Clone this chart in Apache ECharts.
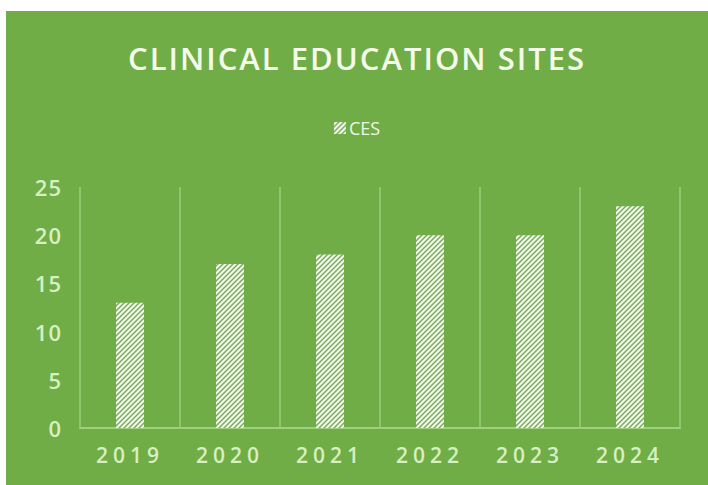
<!DOCTYPE html>
<html>
<head>
<meta charset="utf-8">
<script src="https://cdn.jsdelivr.net/npm/echarts@6/dist/echarts.min.js"></script>
<style>
    html, body { margin: 0; padding: 0; background: #ffffff; }
    #chart { position: absolute; left: 6px; top: 11px; width: 702px; height: 474px; }
</style>
</head>
<body>
<div id="chart"></div>
<script>
    var titleText = 'CLINICAL EDUCATION SITES';
    var seriesName = 'CES';
    var years = ['2019', '2020', '2021', '2022', '2023', '2024'];
    var sites = [13, 17, 18, 20, 20, 23];

    // diagonal hatch tile for the bars
    function hatch() {
        var c = document.createElement('canvas');
        c.width = 5; c.height = 5;
        var ctx = c.getContext('2d');
        ctx.fillStyle = '#f2f8ec';
        ctx.fillRect(0, 0, 5, 5);
        ctx.strokeStyle = '#78a95a';
        ctx.lineWidth = 1.4;
        ctx.beginPath();
        ctx.moveTo(-1, 6); ctx.lineTo(6, -1);
        ctx.moveTo(-1, 1); ctx.lineTo(1, -1);
        ctx.moveTo(4, 6); ctx.lineTo(6, 4);
        ctx.stroke();
        return c.toDataURL();
    }
    var pattern = { image: hatch(), repeat: 'repeat' };

    var myChart = echarts.init(document.getElementById('chart'), null, { renderer: 'svg' });
    var option = {
        backgroundColor: '#70ad47',
        animation: false,
        title: {
            text: titleText,
            left: 'center',
            top: 26,
            textStyle: {
                color: '#f4fbea',
                fontFamily: 'Open Sans',
                fontWeight: 600,
                fontSize: 31
            }
        },
        legend: {
            top: 103,
            left: 'center',
            itemWidth: 12,
            itemHeight: 12,
            itemGap: 4,
            data: [{ name: seriesName, icon: 'rect', itemStyle: { color: pattern } }],
            textStyle: { color: '#eef8e6', fontSize: 18, fontFamily: 'Open Sans', padding: [0, 0, 0, -2] }
        },
        grid: { left: 74, right: 28, top: 176, bottom: 57 },
        xAxis: {
            type: 'category',
            data: years,
            axisLine: { lineStyle: { color: '#9fd07e', width: 2 } },
            axisTick: { show: false },
            splitLine: { show: true, interval: 0, lineStyle: { color: '#8fc56b', width: 2 } },
            axisLabel: { color: '#d6f0c2', fontSize: 21, fontWeight: 600, fontFamily: 'Open Sans', margin: 16, interval: 0 }
        },
        yAxis: {
            type: 'value',
            min: 0,
            max: 25,
            interval: 5,
            axisLine: { show: false },
            axisTick: { show: false },
            splitLine: { show: false },
            axisLabel: { color: '#d6f0c2', fontSize: 22, fontWeight: 600, fontFamily: 'Open Sans', margin: 18 }
        },
        series: [{
            name: seriesName,
            type: 'bar',
            data: sites,
            barWidth: 28,
            itemStyle: { color: pattern }
        }]
    };
    myChart.setOption(option);

    // spread out the year labels and title like the original
    function spacing() {
        var texts = document.querySelectorAll('#chart text');
        for (var i = 0; i < texts.length; i++) {
            var t = texts[i].textContent;
            if (years.indexOf(t) >= 0) texts[i].style.letterSpacing = '5px';
            else if (t === titleText) texts[i].style.letterSpacing = '2px';
            else if (/^\d+$/.test(t)) texts[i].style.letterSpacing = '1px';
        }
    }
    myChart.on('finished', spacing);
    spacing();
</script>
</body>
</html>
